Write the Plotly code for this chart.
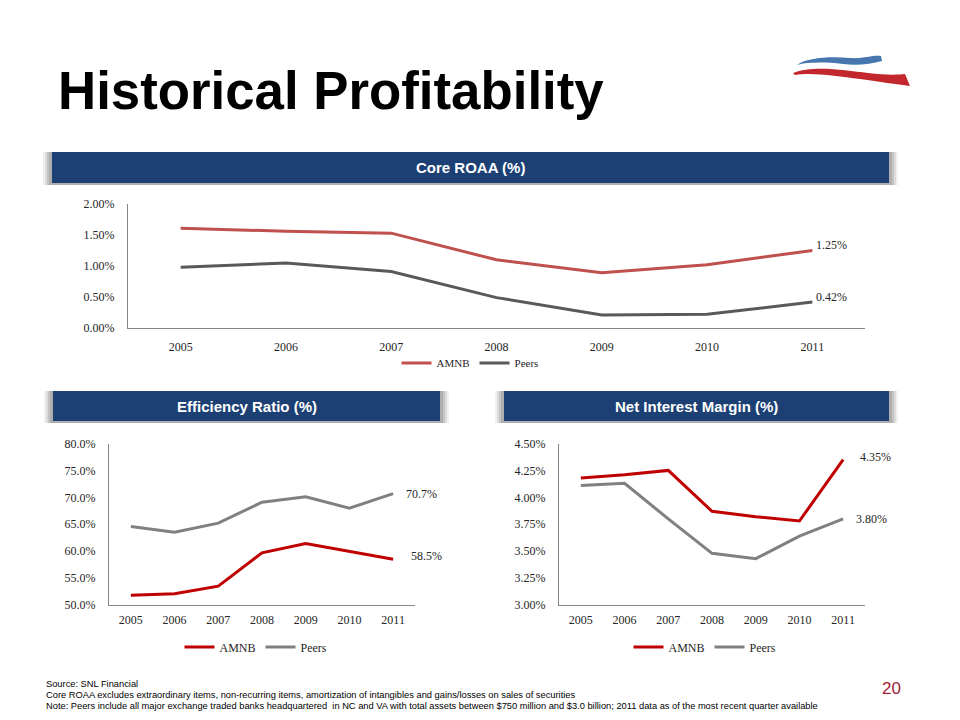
import plotly.graph_objects as go

# ---------------- data ----------------
years = ["2005", "2006", "2007", "2008", "2009", "2010", "2011"]
roaa_amnb = [1.61, 1.56, 1.53, 1.10, 0.89, 1.02, 1.25]
roaa_peers = [0.98, 1.05, 0.91, 0.49, 0.21, 0.22, 0.42]
eff_amnb = [51.8, 52.1, 53.5, 59.7, 61.4, 59.9, 58.5]
eff_peers = [64.6, 63.5, 65.2, 69.1, 70.1, 68.0, 70.7]
nim_amnb = [4.18, 4.21, 4.25, 3.87, 3.82, 3.78, 4.35]
nim_peers = [4.11, 4.13, 3.80, 3.48, 3.43, 3.64, 3.80]
roaa_ticks = [0.0, 0.5, 1.0, 1.5, 2.0]
eff_ticks = [50, 55, 60, 65, 70, 75, 80]
nim_ticks = [3.00, 3.25, 3.50, 3.75, 4.00, 4.25, 4.50]
series_names = ["AMNB", "Peers"]
title_text = "Historical Profitability"
panel_titles = ["Core ROAA (%)", "Efficiency Ratio (%)", "Net Interest Margin (%)"]
footnotes = [
    "Source: SNL Financial",
    "Core ROAA excludes extraordinary items, non-recurring items, amortization of intangibles and gains/losses on sales of securities",
    "Note: Peers include all major exchange traded banks headquartered  in NC and VA with total assets between $750 million and $3.0 billion; 2011 data as of the most recent quarter available",
]
page_number = "20"

W, H = 960, 720
NAVY = "#1C3F74"
SERIF = "Liberation Serif, Times New Roman, serif"
SANS = "Liberation Sans, Arial, sans-serif"


def px(x):
    return x / W


def py(y):
    return 1 - y / H


fig = go.Figure()

# Top chart
fig.add_trace(go.Scatter(x=years, y=roaa_amnb, name=series_names[0], mode="lines",
                         line=dict(color="#C0504D", width=3), xaxis="x", yaxis="y", legend="legend"))
fig.add_trace(go.Scatter(x=years, y=roaa_peers, name=series_names[1], mode="lines",
                         line=dict(color="#595959", width=3), xaxis="x", yaxis="y", legend="legend"))
# Bottom left
fig.add_trace(go.Scatter(x=years, y=eff_amnb, name=series_names[0], mode="lines",
                         line=dict(color="#C00000", width=3), xaxis="x2", yaxis="y2", legend="legend2"))
fig.add_trace(go.Scatter(x=years, y=eff_peers, name=series_names[1], mode="lines",
                         line=dict(color="#808080", width=3), xaxis="x2", yaxis="y2", legend="legend2"))
# Bottom right
fig.add_trace(go.Scatter(x=years, y=nim_amnb, name=series_names[0], mode="lines",
                         line=dict(color="#C00000", width=3), xaxis="x3", yaxis="y3", legend="legend3"))
fig.add_trace(go.Scatter(x=years, y=nim_peers, name=series_names[1], mode="lines",
                         line=dict(color="#808080", width=3), xaxis="x3", yaxis="y3", legend="legend3"))

axis_common = dict(showgrid=False, zeroline=False, showline=True, linecolor="#868686", linewidth=1,
                   ticks="", automargin=False,
                   tickfont=dict(family=SERIF, size=12, color="#262626"), fixedrange=True)

fig.update_layout(
    template="none",
    width=W, height=H, margin=dict(l=0, r=0, t=0, b=0, pad=0, autoexpand=False),
    paper_bgcolor="white", plot_bgcolor="white",
    xaxis=dict(domain=[px(128), px(865)], anchor="y", type="category", range=[-0.5, 6.5],
               ticklabelstandoff=8, **axis_common),
    yaxis=dict(domain=[py(328), py(204)], anchor="x", range=[0, 2], tickvals=roaa_ticks,
               ticktext=["%.2f%%" % v for v in roaa_ticks], ticklabelstandoff=10, **axis_common),
    xaxis2=dict(domain=[px(109), px(415)], anchor="y2", type="category", range=[-0.5, 6.5],
                ticklabelstandoff=4, **axis_common),
    yaxis2=dict(domain=[py(605), py(443.5)], anchor="x2", range=[50, 80], tickvals=eff_ticks,
                ticktext=["%.1f%%" % v for v in eff_ticks], ticklabelstandoff=10, **axis_common),
    xaxis3=dict(domain=[px(559), px(865)], anchor="y3", type="category", range=[-0.5, 6.5],
                ticklabelstandoff=4, **axis_common),
    yaxis3=dict(domain=[py(605), py(443.5)], anchor="x3", range=[3.0, 4.5], tickvals=nim_ticks,
                ticktext=["%.2f%%" % v for v in nim_ticks], ticklabelstandoff=10, **axis_common),
    legend=dict(orientation="h", x=px(470), y=py(363), xanchor="center", yanchor="middle",
                font=dict(family=SERIF, size=11, color="#262626"), itemwidth=30, bgcolor="rgba(0,0,0,0)"),
    legend2=dict(orientation="h", x=px(256), y=py(647), xanchor="center", yanchor="middle",
                 font=dict(family=SERIF, size=12, color="#262626"), itemwidth=30, bgcolor="rgba(0,0,0,0)"),
    legend3=dict(orientation="h", x=px(705), y=py(647), xanchor="center", yanchor="middle",
                 font=dict(family=SERIF, size=12, color="#262626"), itemwidth=30, bgcolor="rgba(0,0,0,0)"),
)

shapes = []
annotations = []

# panel header bars with soft side shadow
bars = [(52, 889, 152, 183), (53, 440, 391, 421), (504, 889, 391, 421)]
for (x0, x1, y0, y1), label in zip(bars, panel_titles):
    for k, c in [(9, "#F0F0F0"), (7, "#DCDCDC"), (5, "#C4C4C4"), (3, "#AEAEAE")]:
        shapes.append(dict(type="rect", xref="paper", yref="paper", x0=px(x0 - k), x1=px(x1 + k),
                           y0=py(y1 + 2), y1=py(y0), fillcolor=c, line=dict(width=0), layer="below"))
    shapes.append(dict(type="rect", xref="paper", yref="paper", x0=px(x0), x1=px(x1),
                       y0=py(y1), y1=py(y0), fillcolor=NAVY, line=dict(width=0), layer="below"))
    annotations.append(dict(text="<b>%s</b>" % label, xref="paper", yref="paper", x=px((x0 + x1) / 2),
                            y=py((y0 + y1) / 2), xanchor="center", yanchor="middle", showarrow=False,
                            font=dict(family=SANS, size=15, color="white")))


def to_paper_path(cmds):
    out = []
    for c in cmds:
        if isinstance(c, str):
            out.append(c)
        else:
            out.append("%.5f,%.5f" % (px(c[0]), py(c[1])))
    return " ".join(out)


# logo swooshes
blue = ["M", (797, 65), "C", (805, 58), (830, 56), (850, 58), "C", (864, 59), (872, 55), (881, 56),
        "L", (882, 61), "C", (870, 64), (858, 66), (843, 64), "C", (824, 62), (808, 62), (797, 65), "Z"]
red = ["M", (793, 73), "C", (812, 65), (845, 70), (868, 73), "C", (884, 75), (897, 75), (905, 74),
       "L", (910, 86), "C", (896, 84), (880, 82), (860, 79), "C", (836, 76), (812, 72), (795, 75), "Z"]
shapes.append(dict(type="path", xref="paper", yref="paper", path=to_paper_path(blue),
                   fillcolor="#4677AE", line=dict(width=0)))
shapes.append(dict(type="path", xref="paper", yref="paper", path=to_paper_path(red),
                   fillcolor="#C1272D", line=dict(width=0)))

# end-of-series value labels (positioned on the last category of each axis)
last = len(years) - 1
end_labels = [
    ("x", "y", roaa_amnb[-1], "%.2f%%" % roaa_amnb[-1], 2, 6),
    ("x", "y", roaa_peers[-1], "%.2f%%" % roaa_peers[-1], 2, 5),
    ("x2", "y2", eff_peers[-1], "%.1f%%" % eff_peers[-1], 11, 0),
    ("x2", "y2", eff_amnb[-1], "%.1f%%" % eff_amnb[-1], 16, 3),
    ("x3", "y3", nim_amnb[-1], "%.2f%%" % nim_amnb[-1], 15, 3),
    ("x3", "y3", nim_peers[-1], "%.2f%%" % nim_peers[-1], 11, 0),
]
for xr, yr, v, t, xs, ys in end_labels:
    annotations.append(dict(text=t, xref=xr, yref=yr, x=last, y=v, xanchor="left", yanchor="middle",
                            xshift=xs, yshift=ys, showarrow=False,
                            font=dict(family=SERIF, size=12, color="#262626")))

# title
annotations.append(dict(text="<b>%s</b>" % title_text, xref="paper", yref="paper", x=px(56), y=py(90),
                        xanchor="left", yanchor="middle", showarrow=False,
                        font=dict(family=SANS, size=52.8, color="black")))

# footnotes
for i, line in enumerate(footnotes):
    annotations.append(dict(text=line, xref="paper", yref="paper", x=px(44), y=py(684 + i * 11),
                            xanchor="left", yanchor="middle", showarrow=False,
                            font=dict(family=SANS, size=9.3, color="black")))

annotations.append(dict(text=page_number, xref="paper", yref="paper", x=px(903), y=py(688),
                        xanchor="right", yanchor="middle", showarrow=False,
                        font=dict(family=SANS, size=17, color="#A3213A")))

fig.update_layout(shapes=shapes, annotations=annotations)

fig.write_html("out.html", config={"displayModeBar": False},
               post_script="document.body.style.margin='0px';")
